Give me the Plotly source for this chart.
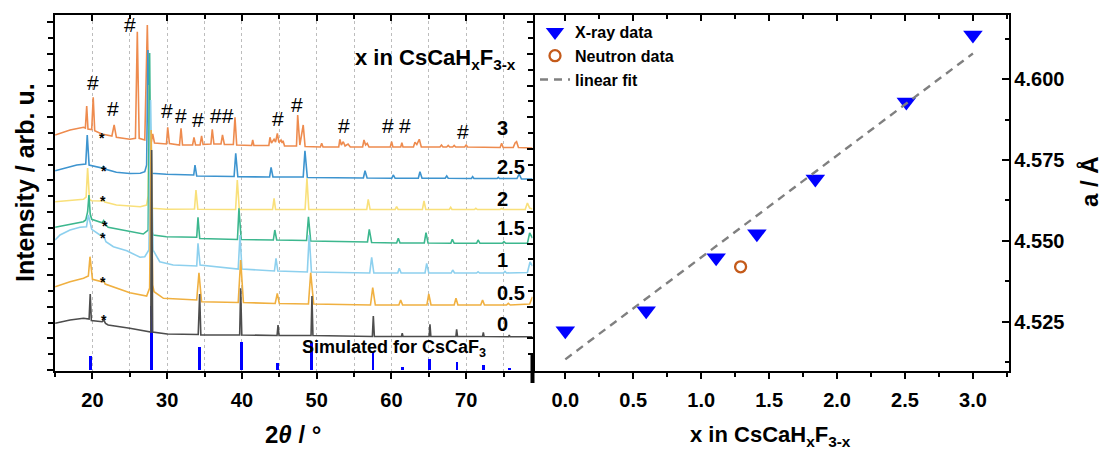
import plotly.graph_objects as go

W, H = 1104, 455

# ---------------- XRD patterns: (2theta / deg, intensity / arb. u.) ----------------
pat_3 = [(15.0, 235), (17.0, 240), (18.8, 242.7), (19.05, 242), (19.23, 264), (19.4, 241),
         (19.9, 240.5), (20.1, 272.7), (20.3, 239.3), (21.24, 236), (22.6, 234), (22.9, 245),
         (23.2, 232.7), (25.0, 230.7), (25.75, 231.7), (26.0, 338.3), (26.25, 231.7), (27.0, 230),
         (27.34, 345), (27.65, 230), (27.9, 229), (28.06, 236), (28.3, 227), (29.9, 226),
         (30.07, 242.7), (30.3, 226.5), (31.65, 225), (31.85, 241.7), (32.05, 225), (33.4, 225),
         (33.58, 232.7), (33.8, 225), (34.4, 225), (34.6, 234), (34.8, 225.5), (35.85, 226),
         (36.03, 240.7), (36.25, 226), (37.2, 226), (37.4, 235), (37.65, 225.5), (38.85, 225.5),
         (39.07, 252.7), (39.3, 225), (41.3, 224.5), (41.44, 230), (41.6, 224.5), (43.6, 224.5),
         (43.75, 232.7), (43.95, 227), (44.3, 230.7), (44.5, 228), (44.74, 236.7), (44.95, 227.5),
         (45.23, 230), (45.38, 227), (45.5, 229.3), (45.7, 224), (47.3, 224), (47.46, 255),
         (47.75, 225), (48.2, 245), (48.45, 223.5), (50.5, 223), (50.67, 226.7), (50.85, 223),
         (52.95, 223), (53.1, 230.7), (53.3, 225), (53.56, 228.3), (53.8, 224), (54.2, 226),
         (54.5, 223), (56.15, 223), (56.33, 230), (56.55, 225), (56.77, 226.7), (57.0, 223),
         (59.85, 223), (60.03, 228.3), (60.2, 223), (61.25, 223), (61.4, 227.3), (61.55, 223),
         (62.95, 223), (63.15, 227.7), (63.4, 225.5), (63.73, 230.7), (64.0, 223), (66.5, 223),
         (66.7, 225), (66.9, 223), (67.4, 223), (67.6, 224.5), (67.8, 223), (68.2, 223),
         (68.4, 224.5), (68.6, 223), (69.8, 223), (70.0, 225), (70.2, 223), (74.55, 222.5),
         (74.75, 226.7), (74.95, 222.5), (76.3, 222.5), (76.55, 227), (76.75, 228.3), (77.0, 222.5),
         (78.88, 222)]

pat_25 = [(15.0, 199.3), (17.9, 205), (19.1, 206), (19.3, 235), (19.55, 205), (20.1, 204),
          (21.3, 202), (21.45, 203.5), (21.65, 201), (23.2, 197.7), (25.0, 196.5), (26.4, 196.7),
          (27.0, 198.3), (27.25, 205), (27.42, 320), (27.6, 202), (27.9, 196.7), (29.9, 195.7),
          (33.55, 195), (33.72, 205), (33.95, 194), (38.95, 193.5), (39.17, 216.7), (39.45, 193.3),
          (43.7, 193), (43.9, 202.7), (44.15, 193), (48.2, 193), (48.43, 219.3), (48.75, 192.5),
          (56.25, 192), (56.47, 199.3), (56.75, 192), (60.05, 191.7), (60.25, 195), (60.5, 191.7),
          (63.6, 191.7), (63.82, 198.3), (64.1, 191.7), (67.2, 191.7), (67.4, 194), (67.6, 191.7),
          (70.7, 191.5), (70.87, 193.3), (71.05, 191.5), (74.15, 191.5), (74.3, 192.7), (74.45, 191.5),
          (76.8, 191.5), (77.1, 196), (77.4, 191), (78.88, 191)]

pat_2 = [(15.0, 168.3), (18.8, 170.7), (19.15, 173), (19.35, 202), (19.6, 170.5), (19.9, 169.3),
         (21.3, 169), (21.45, 170.5), (21.65, 168), (23.2, 165), (26.4, 163.3), (27.25, 165),
         (27.45, 174), (27.6, 285), (27.75, 170), (27.95, 161.7), (29.9, 160.7), (33.65, 161),
         (33.85, 180), (34.1, 160.7), (39.15, 160.5), (39.38, 190), (39.65, 160.5), (44.1, 160.5),
         (44.3, 171.7), (44.5, 160.5), (48.45, 160.5), (48.7, 191.7), (48.95, 160.5), (56.7, 160.5),
         (56.9, 170.7), (57.15, 160.5), (60.5, 160.5), (60.7, 163.3), (60.9, 160.5), (64.15, 160.5),
         (64.36, 169), (64.6, 160.5), (67.75, 160.5), (67.93, 162.7), (68.1, 160.5), (71.1, 160.5),
         (71.3, 161.7), (71.5, 160.5), (74.55, 160.5), (74.75, 161.5), (74.95, 160.5), (77.9, 160.5),
         (78.2, 167), (78.5, 162), (78.88, 161)]

pat_15 = [(15.0, 142.7), (18.78, 148.3), (19.1, 150), (19.35, 158), (19.53, 175), (19.7, 156),
          (19.9, 150.7), (21.3, 147.3), (21.5, 149.5), (21.8, 145), (22.1, 142.7), (24.6, 139.3),
          (26.8, 136), (27.45, 140), (27.65, 317), (27.85, 142), (28.1, 135), (29.9, 133.3),
          (33.95, 132.7), (34.12, 152.7), (34.35, 131.5), (39.4, 130.5), (39.6, 161.7), (39.9, 130.5),
          (44.2, 130), (44.4, 140), (44.65, 130), (48.65, 129.5), (48.9, 153.3), (49.2, 129),
          (56.8, 128), (57.04, 140.7), (57.35, 127.5), (60.7, 127), (60.92, 131.7), (61.15, 127),
          (64.4, 127), (64.63, 137.3), (64.9, 127), (67.95, 126.7), (68.15, 130.7), (68.4, 126.7),
          (71.4, 126.7), (71.6, 130), (71.85, 126.7), (74.85, 126.7), (75.06, 128.3), (75.3, 126.7),
          (78.2, 126.7), (78.5, 137), (78.88, 132)]

pat_1 = [(15.0, 130), (15.66, 135), (17.0, 140), (18.33, 142.7), (19.2, 143.3), (19.45, 155),
         (19.9, 140.7), (21.0, 135), (21.4, 136.7), (21.8, 128.3), (22.8, 123.3), (24.6, 119.3),
         (26.36, 112.7), (27.0, 113.3), (27.55, 120), (27.78, 270), (28.1, 120), (29.0, 108.3),
         (30.8, 105), (33.95, 104), (34.12, 126.7), (34.4, 105), (39.5, 101), (39.74, 135),
         (40.0, 101), (44.35, 99), (44.56, 111.7), (44.8, 99), (48.75, 98), (49.0, 135),
         (49.3, 98), (57.1, 97), (57.36, 112.7), (57.65, 97), (60.85, 97), (61.05, 101.7),
         (61.3, 97), (64.5, 97), (64.72, 106.7), (65.0, 97), (68.0, 97), (68.2, 100),
         (68.45, 97), (71.4, 97), (71.6, 98.3), (71.8, 97), (75.0, 97), (75.2, 98.5),
         (75.4, 97), (78.2, 97.5), (78.55, 108), (78.88, 104)]

pat_05 = [(15.0, 83.3), (17.0, 88.3), (18.8, 91.7), (19.45, 94), (19.67, 113.3), (19.9, 93),
          (20.0, 90.7), (21.3, 88.3), (21.45, 90.5), (21.7, 86), (23.2, 81.7), (25.0, 77.3),
          (27.25, 74), (27.65, 82), (27.85, 240), (28.05, 85), (28.24, 78.3), (29.5, 71.7),
          (33.95, 70), (34.25, 97.3), (34.6, 68.3), (39.5, 67.5), (39.83, 110), (40.2, 67.5),
          (44.45, 66.5), (44.73, 76.7), (45.0, 66.5), (48.9, 66), (49.2, 97.3), (49.6, 66),
          (57.2, 65), (57.5, 82.3), (57.85, 65), (61.0, 65), (61.24, 70), (61.5, 65),
          (64.75, 65), (65.0, 76), (65.3, 65), (68.4, 65), (68.64, 71.7), (68.9, 65),
          (71.95, 65), (72.2, 70), (72.45, 65), (75.4, 65), (75.64, 66.7), (75.9, 65),
          (78.5, 66), (78.88, 73.3)]

pat_0 = [(15.0, 46.7), (17.0, 50), (18.8, 51.7), (19.55, 51), (19.7, 76), (19.85, 49.5),
         (21.3, 48.3), (21.5, 50), (21.75, 46.5), (22.1, 45), (25.0, 41.7), (27.25, 38.3),
         (27.8, 38), (27.92, 220), (28.05, 38), (30.0, 36), (34.15, 35.5), (34.34, 76),
         (34.5, 35), (39.7, 35), (39.83, 81.7), (39.98, 35), (44.7, 34.5), (44.83, 45),
         (44.96, 34.5), (49.25, 34.5), (49.37, 74), (49.5, 34.5), (57.45, 33.5), (57.58, 54),
         (57.72, 33.5), (61.35, 33.5), (61.45, 36.7), (61.55, 33.5), (65.05, 33.5), (65.16, 45.7),
         (65.28, 33.5), (68.63, 33.5), (68.73, 40.7), (68.85, 33.5), (72.2, 33.5), (72.3, 37.7),
         (72.4, 33.5), (75.67, 33.3), (75.77, 35), (75.87, 33.3), (78.88, 33.3)]

sample_labels = ["3", "2.5", "2", "1.5", "1", "0.5", "0"]
sample_colors = ["#EE8B4E", "#3D94CF", "#F9E07A", "#3CB78E", "#8DD0EE", "#F0B040", "#4D4D4D"]
sample_patterns = [pat_3, pat_25, pat_2, pat_15, pat_1, pat_05, pat_0]

# simulated CsCaF3 reflections
sim_tth = [19.70, 27.90, 34.35, 39.90, 44.75, 49.35, 57.55, 61.45, 65.15, 68.80, 72.30, 75.80]
sim_int = [14, 64, 23.3, 28, 7.3, 27, 17.3, 3, 11, 8, 5.3, 2.3]

# impurity (#) and (*) marks: (2theta, intensity)
hash_marks = [(20.11, 288), (22.79, 262), (25.02, 345), (29.93, 260), (31.85, 255), (34.16, 251),
              (37.29, 255), (44.78, 252), (47.33, 266), (53.65, 245), (59.61, 245), (61.82, 245),
              (69.54, 239)]
hash_texts = ["#", "#", "#", "#", "#", "#", "##", "#", "#", "#", "#", "#", "#"]
star_marks = [(21.32, 236), (21.54, 203), (21.45, 173), (21.68, 148), (21.37, 136), (21.37, 92), (21.54, 54)]

# ---------------- lattice parameter ----------------
xray_x = [0.0, 0.595, 1.11, 1.41, 1.84, 2.51, 3.0]
xray_a = [4.5222, 4.5284, 4.5448, 4.5522, 4.5691, 4.5929, 4.6136]
neut_x = [1.29]
neut_a = [4.5420]
fit_x = [0.0, 3.0]
fit_a = [4.5134, 4.6079]

FONT = "Liberation Sans, Arial, sans-serif"

fig = go.Figure()
for lab, col, pat in zip(sample_labels, sample_colors, sample_patterns):
    fig.add_trace(go.Scatter(x=[p[0] for p in pat], y=[p[1] for p in pat], mode="lines",
                             line=dict(color=col, width=1.6), xaxis="x", yaxis="y",
                             showlegend=False, hoverinfo="skip", name=lab))
fig.add_trace(go.Bar(x=sim_tth, y=sim_int, width=0.38, marker=dict(color="#0000FF", line_width=0),
                     xaxis="x", yaxis="y", showlegend=False, hoverinfo="skip"))

fig.add_trace(go.Scatter(x=xray_x, y=xray_a, mode="markers", name="X-ray data",
                         marker=dict(symbol="triangle-down", size=17, color="#0000FF"),
                         xaxis="x2", yaxis="y2"))
fig.add_trace(go.Scatter(x=neut_x, y=neut_a, mode="markers", name="Neutron data",
                         marker=dict(symbol="circle-open", size=11, color="#C45A1A", line=dict(width=2.3)),
                         xaxis="x2", yaxis="y2"))
fig.add_trace(go.Scatter(x=fit_x, y=fit_a, mode="lines", name="linear fit",
                         line=dict(color="#808080", width=2.4, dash="8px,6px"),
                         xaxis="x2", yaxis="y2"))
# empty traces so that the mirror (inside-tick) frame axes are drawn
fig.add_trace(go.Scatter(x=[None], y=[None], xaxis="x3", yaxis="y3", showlegend=False, hoverinfo="skip"))
fig.add_trace(go.Scatter(x=[None], y=[None], xaxis="x4", yaxis="y2", showlegend=False, hoverinfo="skip"))

xl = [55.1 / W, 532.5 / W]
xr = [532.5 / W, 1008.6 / W]
yd = [(H - 371) / H, (H - 15) / H]
tf = dict(family=FONT, size=20, color="black", weight="bold")
line_kw = dict(showline=True, linecolor="black", linewidth=1.5, zeroline=False, tickcolor="black", tickwidth=1.5)
xr_left = [15, 78.88]
yr_left = [-1, 355]
xr_right = [-0.2415, 3.2625]
yr_right = [4.5098, 4.6198]

fig.update_layout(
    width=W, height=H, autosize=False, margin=dict(l=0, r=0, t=0, b=0),
    paper_bgcolor="white", plot_bgcolor="white", barmode="overlay", bargap=0,
    font=dict(family=FONT, color="black"),
    xaxis=dict(domain=xl, range=xr_left, anchor="y", ticks="outside", ticklen=6, tick0=0, dtick=10,
               tickfont=tf, ticklabelstandoff=4, showgrid=True, gridcolor="#BDBDBD", griddash="dot", gridwidth=1,
               minor=dict(dtick=5, tick0=0, ticks="outside", ticklen=4, tickcolor="black",
                          showgrid=True, gridcolor="#BDBDBD", griddash="dot", gridwidth=1),
               **line_kw),
    yaxis=dict(domain=yd, range=yr_left, anchor="x", ticks="outside", ticklen=6, tick0=0, dtick=31.6,
               showticklabels=False, showgrid=False,
               minor=dict(dtick=15.8, tick0=0, ticks="outside", ticklen=5, tickcolor="black"),
               **line_kw),
    xaxis3=dict(overlaying="x", anchor="y3", side="top", range=xr_left, ticks="inside", ticklen=6,
                tick0=0, dtick=10, showticklabels=False, showgrid=False,
                minor=dict(dtick=5, tick0=0, ticks="inside", ticklen=4, tickcolor="black"), **line_kw),
    yaxis3=dict(overlaying="y", anchor="x3", side="right", range=yr_left, ticks="inside", ticklen=6,
                tick0=0, dtick=31.6, showticklabels=False, showgrid=False,
                minor=dict(dtick=15.8, tick0=0, ticks="inside", ticklen=5, tickcolor="black"), **line_kw),
    xaxis2=dict(domain=xr, range=xr_right, anchor="y2", ticks="outside", ticklen=6, tick0=0, dtick=0.5,
                tickformat=".1f", tickfont=tf, ticklabelstandoff=4, showgrid=False,
                minor=dict(dtick=0.25, tick0=0, ticks="outside", ticklen=4, tickcolor="black"), **line_kw),
    yaxis2=dict(domain=yd, range=yr_right, anchor="x2", side="right", ticks="inside", ticklen=7,
                tick0=4.5, dtick=0.025, tickformat=".3f", tickfont=tf, showgrid=False,
                minor=dict(dtick=0.0125, tick0=4.5, ticks="inside", ticklen=4, tickcolor="black"), **line_kw),
    xaxis4=dict(overlaying="x2", anchor="y2", side="top", range=xr_right, ticks="inside", ticklen=6,
                tick0=0, dtick=0.5, showticklabels=False, showgrid=False,
                minor=dict(dtick=0.25, tick0=0, ticks="inside", ticklen=4, tickcolor="black"), **line_kw),
    legend=dict(x=535 / W, y=(H - 15) / H, xanchor="left", yanchor="top", bgcolor="rgba(0,0,0,0)",
                font=dict(family=FONT, size=16, color="black", weight="bold"), tracegroupgap=0,
                itemwidth=30),
)

ann = []
def pa(text, x, y, size, xanchor="center", **kw):
    d = dict(text=text, x=x / W, y=(H - y) / H, xref="paper", yref="paper", showarrow=False,
             xanchor=xanchor, yanchor="middle", font=dict(family=FONT, size=size, color="black"))
    d.update(kw)
    ann.append(d)

# axis titles
pa("<b>2<i>θ</i> / °</b>", 293, 434, 24)
pa("<b>x in CsCaH<sub>x</sub>F<sub>3-x</sub></b>", 770, 436, 22)
pa("<b>Intensity / arb. u.</b>", 25, 183, 25, textangle=-90)
pa("<b>a / Å</b>", 1089, 182, 24, textangle=-90)
# in-plot labels
pa("<b>x in CsCaH<sub>x</sub>F<sub>3-x</sub></b>", 518, 59, 22, xanchor="right")
pa("<b>Simulated for CsCaF<sub>3</sub></b>", 300, 348, 18, xanchor="left")
label_y = [128, 167, 199, 228, 260, 293, 324]
for lab, yy in zip(sample_labels, label_y):
    pa("<b>%s</b>" % lab, 495, yy, 20, xanchor="left")

for (hx, hy), t in zip(hash_marks, hash_texts):
    ann.append(dict(text=t, x=hx, y=hy, xref="x", yref="y", showarrow=False,
                    xanchor="center", yanchor="middle",
                    font=dict(family=FONT, size=21, color="black")))
for sx, sy in star_marks:
    ann.append(dict(text="<b>*</b>", x=sx, y=sy, xref="x", yref="y", showarrow=False, yshift=-4,
                    xanchor="center", yanchor="middle",
                    font=dict(family=FONT, size=14, color="black")))

fig.update_layout(annotations=ann)
fig.add_shape(type="line", xref="paper", yref="paper", x0=532.5 / W, x1=532.5 / W,
              y0=(H - 383) / H, y1=(H - 353) / H, line=dict(color="black", width=4))

fig.write_html("out.html")
